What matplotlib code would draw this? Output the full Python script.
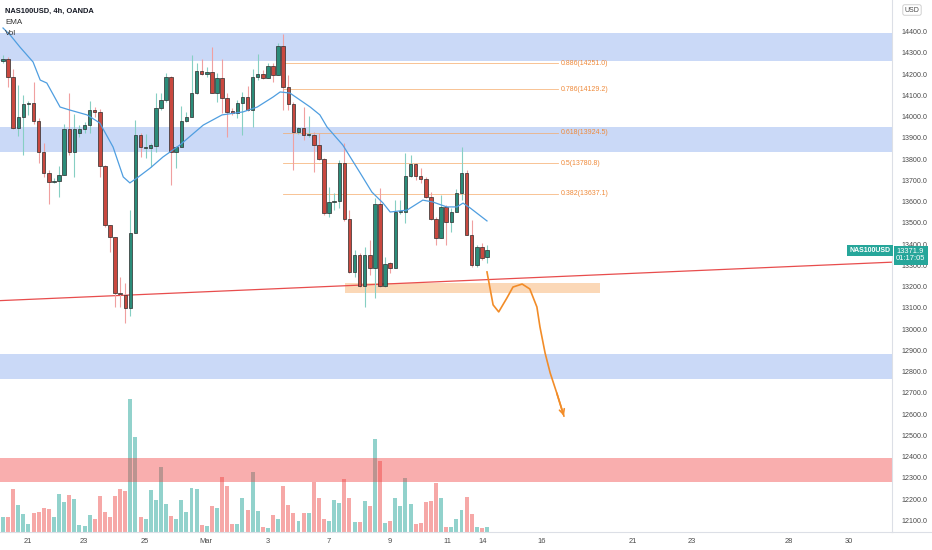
import numpy as np
import matplotlib
matplotlib.use("Agg")
import matplotlib.pyplot as plt

plt.rcParams['font.family'] = ['Liberation Sans', 'DejaVu Sans']

# 4h candles, NAS100USD (OANDA)
opens = [14262, 14269, 14185, 13945, 13996, 14060, 14062, 13981, 13835, 13736,
         13691, 13698, 13725, 13940, 13835, 13921, 13942, 13959, 14031, 14020,
         13768, 13490, 13432, 13168, 13160, 13098, 13454, 13913, 13851, 13851,
         13860, 14039, 14078, 14188, 13835, 13858, 13981, 14000, 14109, 14216,
         14200, 14211, 14113, 14180, 14086, 14026, 14015, 14066, 14094, 14031,
         14188, 14199, 14183, 14238, 14196, 14332, 14138, 14059, 13929, 13945,
         13913, 13913, 13866, 13799, 13548, 13600, 13603, 13783, 13517, 13270,
         13349, 13204, 13349, 13289, 13587, 13204, 13310, 13286, 13553, 13553,
         13720, 13775, 13720, 13705, 13620, 13517, 13427, 13573, 13502, 13553,
         13639, 13733, 13443, 13302, 13385, 13338]
highs = [14290, 14282, 14222, 14149, 14102, 14073, 14161, 13992, 13874, 13749,
         13709, 13768, 13965, 14109, 14012, 13960, 13976, 14075, 14044, 14034,
         13772, 13490, 13435, 13247, 13215, 13561, 13984, 13921, 13918, 13874,
         14109, 14109, 14204, 14192, 13862, 14050, 14023, 14290, 14251, 14269,
         14235, 14329, 14207, 14269, 14109, 14039, 14078, 14117, 14144, 14222,
         14295, 14219, 14251, 14251, 14345, 14389, 14196, 14070, 13950, 14047,
         14003, 13929, 13921, 13804, 13670, 13639, 13796, 13874, 13560, 13372,
         13360, 13388, 13419, 13615, 13662, 13341, 13318, 13608, 13608, 13827,
         13819, 13780, 13760, 13717, 13647, 13529, 13631, 13584, 13568, 13658,
         13858, 13749, 13513, 13396, 13404, 13396]
lows = [14251, 14141, 13940, 13909, 13819, 14008, 13965, 13780, 13717, 13589,
        13686, 13623, 13725, 13819, 13717, 13906, 13921, 13921, 14000, 13717,
        13482, 13364, 13106, 13106, 13030, 13063, 13454, 13811, 13807, 13764,
        13835, 14030, 14070, 13678, 13757, 13855, 13976, 13996, 14105, 14195,
        14188, 14109, 14070, 14015, 13906, 14008, 13992, 13913, 14028, 13953,
        14172, 14175, 14183, 14164, 14196, 14031, 14031, 13749, 13920, 13890,
        13905, 13741, 13796, 13537, 13529, 13560, 13568, 13510, 13265, 13247,
        13200, 13106, 13255, 13145, 13200, 13200, 13262, 13286, 13540, 13498,
        13715, 13702, 13686, 13615, 13513, 13396, 13427, 13396, 13459, 13553,
        13608, 13443, 13294, 13294, 13325, 13310]
closes = [14272, 14188, 13945, 13996, 14059, 14063, 13981, 13835, 13736, 13691,
          13695, 13725, 13940, 13835, 13940, 13943, 13959, 14031, 14020, 13768,
          13490, 13432, 13168, 13165, 13098, 13454, 13913, 13855, 13858, 13866,
          14039, 14078, 14188, 13835, 13858, 13981, 14000, 14109, 14216, 14200,
          14211, 14113, 14180, 14086, 14023, 14015, 14066, 14094, 14031, 14188,
          14199, 14183, 14238, 14196, 14332, 14138, 14059, 13929, 13945, 13913,
          13915, 13866, 13799, 13548, 13600, 13603, 13783, 13517, 13270, 13349,
          13204, 13349, 13289, 13587, 13204, 13306, 13286, 13553, 13556, 13720,
          13775, 13720, 13705, 13623, 13517, 13427, 13573, 13502, 13553, 13639,
          13733, 13443, 13302, 13385, 13336, 13372]
volumes = [1530, 1500, 4300, 2730, 1800, 830, 1930, 2030, 2370, 2300,
           1470, 3770, 2970, 3700, 3300, 700, 600, 1670, 1330, 3570,
           2000, 1530, 3570, 4300, 4070, 13270, 9530, 1500, 1270, 4230,
           3170, 6500, 2800, 1600, 1270, 3230, 2000, 4370, 4300, 670,
           600, 2600, 2400, 5530, 4570, 770, 770, 3430, 2170, 6000,
           2100, 530, 430, 1730, 1270, 4570, 2730, 1930, 1130, 1930,
           1930, 4970, 3370, 1330, 1100, 3170, 2900, 5300, 3370, 1000,
           1000, 3100, 2630, 9270, 7100, 900, 1100, 3370, 2600, 5370,
           2800, 770, 900, 2970, 3070, 4870, 3430, 470, 470, 1330,
           2170, 3500, 1800, 530, 430, 470]

# EMA (bar index, price)
ema_x = [0, 1.4, 3.3, 5.9, 7.3, 8.6, 11.2, 13.1, 16.5, 19.0, 21.6, 23.6, 24.9,
         26.3, 28.9, 31.4, 34.7, 39.3, 43.0, 47.1, 49.9, 53.0, 54.4, 56.3, 57.7,
         60.3, 62.2, 63.6, 66.7, 70.1, 72.4, 74.6, 76.0, 79.3, 82.4, 84.4, 87.1,
         89.1, 90.3, 91.7, 95.0]
ema_y = [14417, 14384, 14328, 14257, 14172, 14158, 14045, 14031, 14008, 13970,
         13857, 13716, 13688, 13711, 13758, 13810, 13866, 13960, 14008, 14022,
         14045, 14092, 14116, 14111, 14088, 14045, 14008, 13951, 13866, 13735,
         13645, 13593, 13551, 13560, 13607, 13598, 13575, 13575, 13593, 13570,
         13509]

# zones (price ranges)
blue_zones = [(14263, 14393), (13835, 13952), (12765, 12881)]
red_zone = (12280, 12393)
demand_x = (67.1, 117.2)
demand_y = (13170, 13216)

# fib retracement
fib_ratios = ['0.886', '0.786', '0.618', '0.5', '0.382']
fib_levels = [14251.0, 14129.2, 13924.5, 13780.8, 13637.1]
fib_x = (54.95, 108.9)

# trend line
trend_x = [-0.6, 174.5]
trend_y = [13134, 13315]

# projected path (hand drawn)
path_x = [95.0, 96.2, 97.3, 98.9, 100.1, 101.9, 103.4, 104.8, 105.4, 106.4, 107.4, 108.7, 110.1]
path_y = [13269, 13114, 13081, 13146, 13198, 13212, 13189, 13104, 13010, 12888, 12794, 12699, 12591]

date_pos = [4.9, 15.9, 27.9, 39.8, 52.0, 64.0, 76.0, 87.3, 94.2, 105.8, 123.6, 135.2, 154.3, 166.0]
date_lbl = ['21', '23', '25', 'Mar', '3', '7', '9', '11', '14', '16', '21', '23', '28', '30']

last_price = 13371.9

W, H = 932, 550
fig = plt.figure(figsize=(W / 100, H / 100), dpi=100)
rect = [0, 18 / H, 892 / W, 532 / H]
axv = fig.add_axes(rect, zorder=0)
ax = fig.add_axes(rect, zorder=1)
ax.patch.set_alpha(0)

o = np.array(opens)
c = np.array(closes)
hi = np.array(highs)
lo = np.array(lows)
idx = np.arange(len(o))
up = c >= o

# volume
axv.bar(idx, volumes, width=0.78, color=np.where(up, '#26a69a', '#ef5350'), alpha=0.5, linewidth=0)
axv.set_ylim(0, 53200)
axv.set_xlim(-0.59, 174.5)
axv.axis('off')

# zones
for lo_z, hi_z in blue_zones:
    ax.axhspan(lo_z, hi_z, color='#7ba1ec', alpha=0.4, lw=0, zorder=0)
ax.axhspan(red_zone[0], red_zone[1], color='#f23f3f', alpha=0.42, lw=0, zorder=0)
ax.fill_between(demand_x, demand_y[0], demand_y[1], color='#f9b97c', alpha=0.55, lw=0, zorder=0)

# fib
for r, lv in zip(fib_ratios, fib_levels):
    ax.plot(fib_x, [lv, lv], color='#f6a865', lw=0.6, alpha=0.8, zorder=1)
    ax.text(fib_x[1] + 0.6, lv, f"{r}({lv:.1f})", color='#ef8a3a', fontsize=5,
            va='center', ha='left', zorder=1)

ax.plot(trend_x, trend_y, color='#e84d4d', lw=0.9, zorder=2)

# candles
ax.vlines(idx[up], lo[up], hi[up], color='#86cfc3', lw=0.8, zorder=3)
ax.vlines(idx[~up], lo[~up], hi[~up], color='#f0a0a0', lw=0.8, zorder=3)
body_lo = np.minimum(o, c)
body_h = np.maximum(np.abs(c - o), 4)
ax.bar(idx[up], body_h[up], bottom=body_lo[up], width=0.68, color='#2b8c79',
       edgecolor='#2c2c2c', linewidth=0.5, zorder=4)
ax.bar(idx[~up], body_h[~up], bottom=body_lo[~up], width=0.68, color='#c9483f',
       edgecolor='#2c2c2c', linewidth=0.5, zorder=4)

ax.plot(ema_x, ema_y, color='#4f9ee0', lw=0.9, zorder=5)

ax.plot(path_x, path_y, color='#f28c28', lw=1.2, zorder=6, solid_joinstyle='round')
ax.annotate('', xy=(path_x[-1], path_y[-1]), xytext=(path_x[-2], path_y[-2]),
            arrowprops=dict(arrowstyle='->', color='#f28c28', lw=1.2,
                            mutation_scale=9, shrinkA=0, shrinkB=0), zorder=6)

ax.set_xlim(-0.59, 174.5)
ax.set_ylim(12045.2, 14548.7)

ax.yaxis.tick_right()
yt = list(range(12100, 14500, 100))
ax.set_yticks(yt)
ax.set_yticklabels([f"{v:.1f}" for v in yt])
ax.set_xticks(date_pos)
ax.set_xticklabels(date_lbl)
ax.tick_params(axis='y', length=0, pad=7, labelsize=5.1, labelcolor='#4a4a4a')
ax.tick_params(axis='x', length=0, pad=4, labelsize=5.4, labelcolor='#4a4a4a')
for s in ['top', 'left']:
    ax.spines[s].set_visible(False)
for s in ['right', 'bottom']:
    ax.spines[s].set_color('#dcdfe6')
    ax.spines[s].set_linewidth(0.8)
fig.add_artist(plt.Line2D([892 / W, 1], [18 / H, 18 / H], color='#dcdfe6', lw=0.8))

# header
fig.text(5 / W, 1 - 11 / H, 'NAS100USD, 4h, OANDA', fontsize=5.4, color='#131722',
         va='center', weight='bold')
fig.text(5 / W, 1 - 22.5 / H, 'EMA', fontsize=5.8, color='#333333', va='center')
fig.text(5 / W, 1 - 33.5 / H, 'Vol', fontsize=5.8, color='#333333', va='center')

fig.text(912 / W, 1 - 10 / H, 'USD', fontsize=5, color='#4a4a4a', ha='center', va='center',
         bbox=dict(boxstyle='round,pad=0.25', fc='white', ec='#c8c8c8', lw=0.6))

# last price tags
fig.text(870 / W, 1 - 250.5 / H, 'NAS100USD', fontsize=5, color='white', ha='center',
         va='center', weight='bold',
         bbox=dict(boxstyle='square,pad=0.3', fc='#26a69a', ec='none'))
fig.text(896 / W, 1 - 255 / H, f"{last_price:.1f}\n01:17:05", fontsize=5.4, color='white',
         ha='left', va='center', linespacing=1.1,
         bbox=dict(boxstyle='square,pad=0.3', fc='#26a69a', ec='none'))

fig.savefig('out.png', dpi=100)
